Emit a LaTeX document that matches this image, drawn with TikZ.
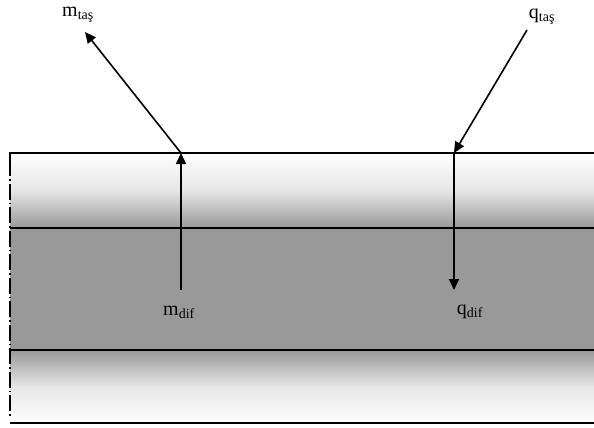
\documentclass[tikz,border=0pt]{standalone}
\usepackage{fontspec}
\setmainfont{Liberation Serif}
\usetikzlibrary{arrows.meta}
\definecolor{bandgray}{RGB}{153,153,153}
\tikzset{
  flow/.style={line width=1.6pt,-{Triangle[length=11pt,width=10pt]}},
  edge/.style={line width=1.1pt},
  lbl/.style={font=\fontsize{20}{22}\selectfont,inner sep=0pt}
}
\begin{document}
\begin{tikzpicture}[x=1pt,y=-1pt]
\useasboundingbox (0,0) rectangle (594,428);
% bands
\shade[top color=white,bottom color=bandgray,middle color=gray!20] (10,153) rectangle (594,228);
\fill[bandgray] (10,228) rectangle (594,350);
\shade[top color=bandgray,bottom color=white,middle color=gray!20] (10,350) rectangle (594,423);
% edges
\draw[edge] (10,160) -- (10,153) -- (594,153);
\draw[edge] (10,228) -- (594,228);
\draw[edge] (10,350) -- (594,350);
\draw[edge] (10,423) -- (594,423);
\draw[line width=1.1pt,dash pattern=on 16pt off 3pt on 1.5pt off 3pt] (10,160) -- (10,418);
% labels
\node[lbl] (mtas) at (78,15) {m\textsubscript{taş}};
\node[lbl] (qtas) at (542,17) {q\textsubscript{taş}};
\node[lbl] (mdif) at (179,312) {m\textsubscript{dif}};
\node[lbl] (qdif) at (470,312) {q\textsubscript{dif}};
% coordinates
\coordinate (mstart) at (181,290);
\coordinate (mjoin) at (181,153);
\coordinate (mend) at (85,32);
\coordinate (qstart) at (527,30);
\coordinate (qjoin) at (454,153);
\coordinate (qend) at (454,290);
% arrows
\draw[flow] (mstart) -- (mjoin);
\draw[flow] (mjoin) -- (mend);
\draw[flow] (qstart) -- (qjoin);
\draw[flow] (qjoin) -- (qend);
\end{tikzpicture}
\end{document}
